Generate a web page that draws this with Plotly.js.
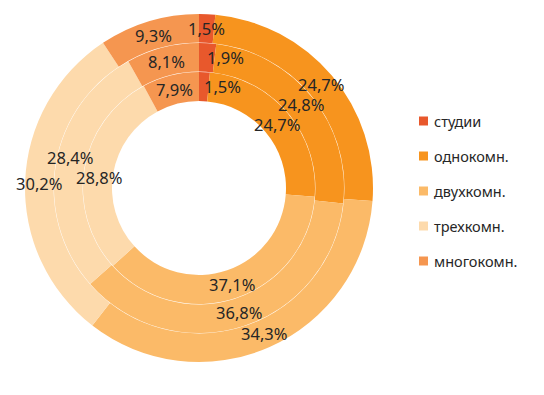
<!DOCTYPE html>
<html><head><meta charset="utf-8">
<script src="https://cdn.plot.ly/plotly-3.0.1.min.js"></script>
<style>html,body{margin:0;padding:0;background:#fff}#chart{width:544px;height:395px}</style>
</head><body><div id="chart"></div>
<script>
const categories = ['студии','однокомн.','двухкомн.','трехкомн.','многокомн.'];
const colors = ['#E8582C','#F7941E','#FBBA68','#FDDAAC','#F59650'];
const outerValues = [1.5, 24.7, 34.3, 30.2, 9.3];
const middleValues = [1.9, 24.8, 36.8, 28.4, 8.1];
const innerValues = [1.5, 24.7, 37.1, 28.8, 7.9];

const W = 544, H = 395, cx = 199, cy = 188;
const FONT = 'Noto Sans, Open Sans, sans-serif';
const LW = 44, LH = 20;
function fmt(v){ return v.toFixed(1).replace('.', ',') + '%'; }
function dom(R){ return {x:[(cx-R)/W,(cx+R)/W], y:[1-(cy+R)/H, 1-(cy-R)/H]}; }
const labels = [], shapes = [], annotations = [];
function ring(vals, R, rIn, leftSmall){
  const total = vals.reduce((a,b)=>a+b,0);
  let cum = 0;
  const rm = (R + rIn)/2;
  vals.forEach((v,i)=>{
    const th = 2*Math.PI*(cum + v/2)/total;
    cum += v;
    const shift = (leftSmall && i === 0);
    const px = cx + rm*Math.sin(th), py = cy - rm*Math.cos(th);
    labels.push({text: fmt(v), cxp: shift ? px - 3 + LW/2 : px, cyp: py});
  });
  return {type:'pie', values: vals, labels: categories,
    textinfo:'none', sort:false, direction:'clockwise', rotation:0, hole: rIn/R, domain: dom(R),
    marker:{colors: colors, line:{width:0}}, showlegend:false, hoverinfo:'skip'};
}
const data = [ring(outerValues,174,145.4,false), ring(middleValues,145,116.4,true), ring(innerValues,116,87,true)];
// simple collision relaxation: push overlapping labels apart vertically
for (let it = 0; it < 10; it++) {
  for (let a = 0; a < labels.length; a++) for (let b = a+1; b < labels.length; b++) {
    const A = labels[a], B = labels[b];
    const dx = Math.abs(A.cxp - B.cxp), dy = B.cyp - A.cyp;
    if (dx < LW && Math.abs(dy) < LH) {
      const push = (LH - Math.abs(dy))/2, s = dy >= 0 ? 1 : -1;
      A.cyp -= s*push; B.cyp += s*push;
    }
  }
}
labels.forEach(l=>{
  annotations.push({xref:'paper', yref:'paper', x:l.cxp/W, y:1-l.cyp/H, xanchor:'center', yanchor:'middle',
    text:l.text, showarrow:false, borderpad:0, font:{family:FONT, size:16.5, color:'#262626'}});
});
categories.forEach((c,i)=>{
  const y = 121 + i*35;
  shapes.push({type:'rect', xref:'paper', yref:'paper', x0:419/W, x1:428/W, y0:1-(y+4.5)/H, y1:1-(y-4.5)/H, fillcolor:colors[i], line:{width:0}});
  annotations.push({xref:'paper', yref:'paper', x:432/W, y:1-y/H, xanchor:'left', yanchor:'middle', text:c, showarrow:false, font:{family:FONT, size:14.5, color:'#262626'}});
});
Plotly.newPlot('chart', data, {width:W, height:H, margin:{l:0,r:0,t:0,b:0}, paper_bgcolor:'#fff',
  shapes: shapes, annotations: annotations, showlegend:false},
  {staticPlot:true});
</script></body></html>
